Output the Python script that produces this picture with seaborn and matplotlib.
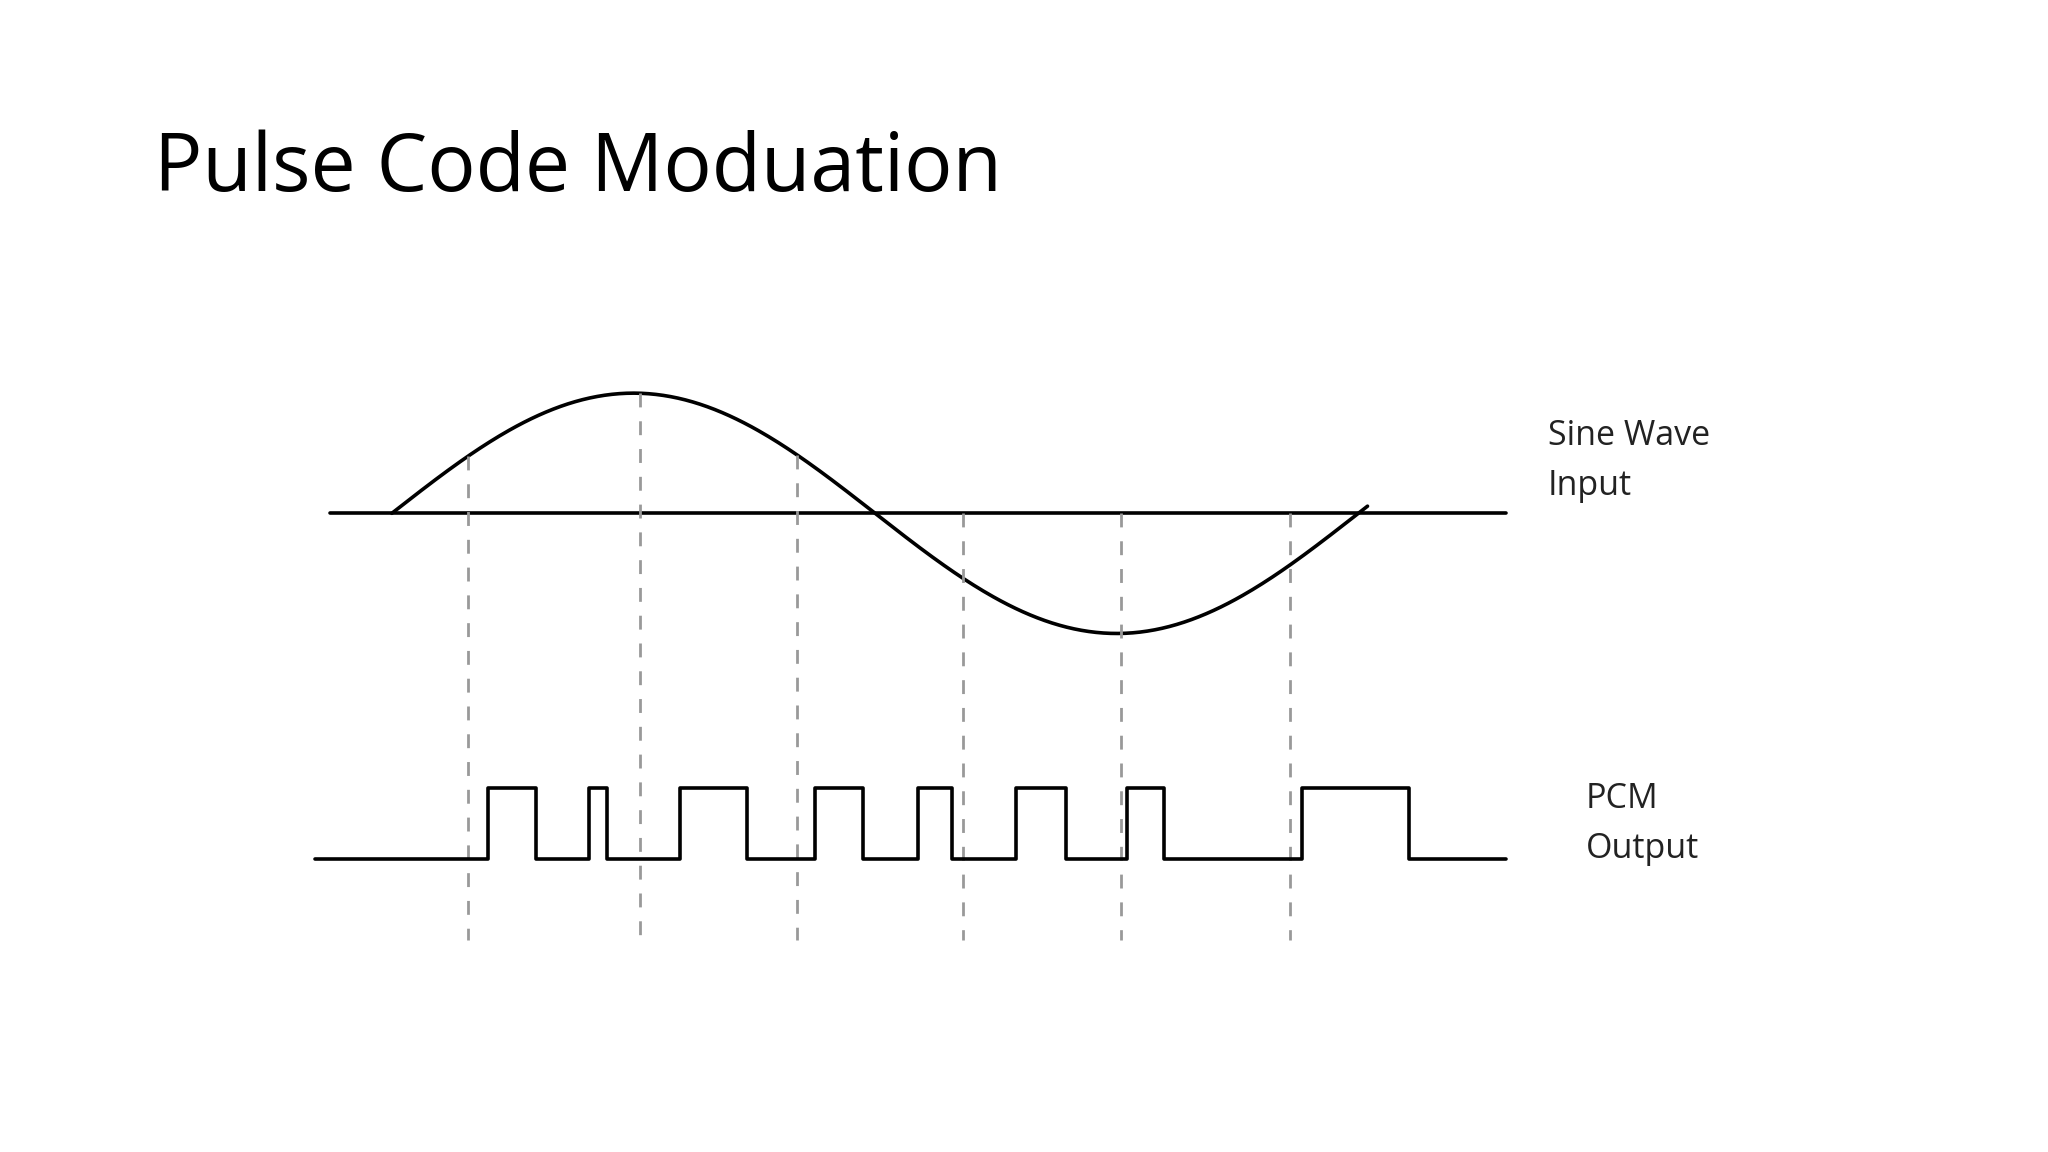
import numpy as np
import matplotlib.pyplot as plt
import seaborn as sns

sns.set_theme(style="white")
plt.rcParams['font.family'] = ['Open Sans', 'DejaVu Sans']

# layout units: pixels of a 1568 x 882 canvas
title = "Pulse Code Moduation"
sine_label = "Sine Wave\nInput"
pcm_label = "PCM\nOutput"

# sine wave input
sine_start, sine_end = 300, 1040
sine_axis_y = 393
sine_amp = 92
axis_range = [253, 1153]

# sampling instants
sample_x = [358, 490, 610, 737, 858, 988]
dash_bottom = 720

# PCM output: edges (rise, fall) of each pulse
pulse_edges = [(374, 410), (451, 465), (521, 572), (624, 661), (703, 729),
               (778, 816), (863, 891), (997, 1079)]
pcm_range = [241, 1153]
pcm_low, pcm_high = 658, 603


def sine_y(x):
    phase = (np.asarray(x) - sine_start) / (sine_end - sine_start) * 2 * np.pi
    return sine_axis_y - sine_amp * np.sin(phase)


fig = plt.figure(figsize=(20.48, 11.52), dpi=100)
ax = fig.add_axes([0, 0, 1, 1])
ax.set_xlim(0, 1568)
ax.set_ylim(882, 0)
ax.axis("off")

ax.text(118, 130, title, fontsize=58, va="center", ha="left", color="black")

# axis line and sine
ax.plot(axis_range, [sine_axis_y] * 2, color="black", lw=2.6)
xs = np.linspace(sine_start, sine_end + 7, 400)
sns.lineplot(x=xs, y=sine_y(xs), ax=ax, color="black", lw=2.6, sort=False)

# sampling dashes
for x in sample_x:
    top = min(sine_y(x), sine_axis_y)
    ax.plot([x, x], [top, dash_bottom], color="#999999", lw=2, ls=(0, (5, 5)))

# PCM waveform
px = [pcm_range[0]]
py = [pcm_low]
for r, f in pulse_edges:
    px += [r, r, f, f]
    py += [pcm_low, pcm_high, pcm_high, pcm_low]
px.append(pcm_range[1])
py.append(pcm_low)
ax.plot(px, py, color="black", lw=2.6)

ax.text(1185, 353, sine_label, fontsize=24.5, va="center", ha="left",
        color="#222222", linespacing=1.6)
ax.text(1214, 631, pcm_label, fontsize=24.5, va="center", ha="left",
        color="#222222", linespacing=1.6)

fig.savefig("out.png", dpi=100, facecolor="white")
